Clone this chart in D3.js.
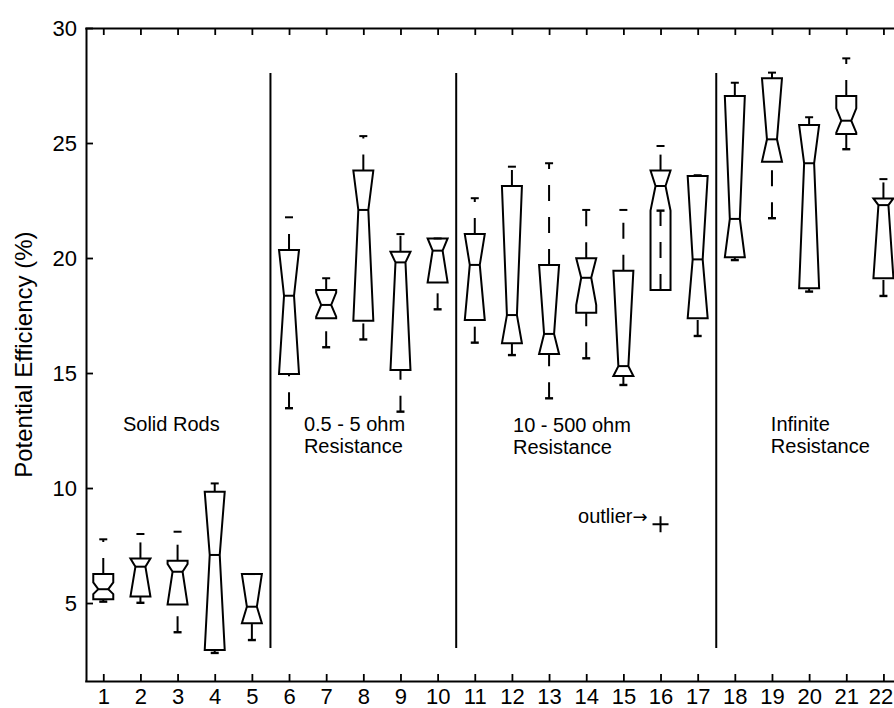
<!DOCTYPE html>
<html>
<head>
<meta charset="utf-8">
<script src="https://cdn.jsdelivr.net/npm/d3@7"></script>
<style>
  body { margin: 0; background: #fff; }
  svg text { font-family: "Liberation Sans", Arial, sans-serif; fill: #000; }
</style>
</head>
<body>
<div class="container"></div>
<script>
// box plot data, one entry per group (1..22)
var groups = d3.range(1, 23);
var whiskerHi = [7.77, 8.00, 8.10, 10.20, 6.26, 21.77, 19.12, 25.30, 21.04, 20.85, 22.60, 23.97, 24.12, 22.09, 22.09, 24.87, 23.60, 27.62, 28.06, 26.12, 28.68, 23.43];
var q3 =        [6.26, 6.94, 6.84, 9.84, 6.26, 20.35, 18.61, 23.80, 20.27, 20.85, 21.04, 23.13, 19.70, 19.99, 19.45, 23.80, 23.57, 27.04, 27.81, 25.78, 27.04, 22.59];
var notchHi =   [5.90, 6.94, 6.70, 9.84, 6.26, 20.35, 18.50, 23.80, 20.27, 20.85, 21.04, 23.13, 19.70, 19.99, 19.45, 23.80, 23.57, 27.04, 27.81, 25.78, 26.51, 22.59];
var median =    [5.60, 6.58, 6.36, 7.09, 4.84, 18.36, 17.96, 22.09, 19.81, 20.32, 19.70, 17.52, 16.70, 19.14, 15.30, 23.13, 19.94, 21.70, 25.16, 24.12, 25.97, 22.30];
var notchLo =   [5.39, 5.28, 4.94, 2.96, 4.12, 14.96, 17.45, 17.27, 15.13, 18.94, 17.30, 16.29, 15.83, 17.95, 14.87, 22.06, 17.38, 20.03, 24.19, 18.68, 25.45, 19.12];
var q1 =        [5.16, 5.28, 4.94, 2.96, 4.12, 14.96, 17.38, 17.27, 15.13, 18.94, 17.30, 16.29, 15.83, 17.62, 14.87, 18.61, 17.38, 20.03, 24.19, 18.68, 25.39, 19.12];
var whiskerLo = [5.06, 5.01, 3.73, 2.83, 3.39, 13.47, 16.12, 16.46, 13.32, 17.77, 16.32, 15.78, 13.90, 15.64, 14.48, 22.06, 16.61, 19.91, 21.73, 18.54, 24.73, 18.35];

// outliers
var outlierGroup = [16];
var outlierValue = [8.43];

// y ticks
var yTicks = [5, 10, 15, 20, 25, 30];

// group separators and annotation text
var separators = [5.5, 10.5, 17.5];
var notes = [
  {x: 1.53, y: 12.48, lines: ["Solid Rods"]},
  {x: 6.40, y: 12.48, lines: ["0.5 - 5 ohm", "Resistance"]},
  {x: 12.03, y: 12.45, lines: ["10 - 500 ohm", "Resistance"]},
  {x: 18.97, y: 12.48, lines: ["Infinite", "Resistance"]}
];

var svgWidth = 894;
var svgHeight = 708;

var svg = d3.select('.container').append('svg')
  .attr('width', svgWidth)
  .attr('height', svgHeight);

// scales
var xScale = d3.scaleLinear().domain([0.5, 22.5]).range([84.7, 84.7 + 22 * 37.15]);
var yScale = d3.scaleLinear().domain([1.61, 30]).range([681, 28]);

// axes, ticks pointing inward
svg.append('g')
  .attr('transform', 'translate(0,681)')
  .call(d3.axisBottom(xScale).tickValues(groups).tickSizeInner(-7).tickSizeOuter(0).tickPadding(7))
  .call(g => g.selectAll('text').attr('font-size', 22))
  // last label sits at the window edge, nudge it in a little
  .call(g => g.selectAll('.tick:last-of-type text').attr('dx', -3));

svg.append('g')
  .attr('transform', 'translate(0,28)')
  .call(d3.axisTop(xScale).tickValues(groups).tickSizeInner(-7).tickSizeOuter(0).tickFormat(''));

svg.append('g')
  .attr('transform', 'translate(86,0)')
  .call(d3.axisLeft(yScale).tickValues(yTicks).tickSizeInner(-7).tickSizeOuter(0).tickPadding(9))
  .call(g => g.selectAll('text').attr('font-size', 22));

svg.selectAll('.domain').attr('stroke-width', 2);
svg.selectAll('.tick line').attr('stroke-width', 1.8);
svg.selectAll('.tick text').attr('font-family', '"Liberation Sans", Arial, sans-serif');

// y label
svg.append('text')
  .attr('transform', 'translate(32,' + yScale(15.8) + ') rotate(-90)')
  .attr('text-anchor', 'middle')
  .attr('font-size', 24)
  .text('Potential Efficiency (%)');

// group separators
svg.selectAll('.sep')
  .data(separators)
  .enter()
  .append('line')
  .attr('x1', d => xScale(d))
  .attr('x2', d => xScale(d))
  .attr('y1', yScale(3.04))
  .attr('y2', yScale(28.04))
  .attr('stroke', '#000')
  .attr('stroke-width', 2);

// boxes
var w = 10;
var boxes = groups.map((g, i) => ({
  g: g, whi: whiskerHi[i], q3: q3[i], nhi: notchHi[i], med: median[i],
  nlo: notchLo[i], q1: q1[i], wlo: whiskerLo[i]
}));

var boxG = svg.selectAll('.box')
  .data(boxes)
  .enter()
  .append('g')
  .attr('class', 'box');

// whiskers, dashed, drawn from the lower end upward
function whiskerPath(d, a, b) {
  var lo = Math.min(a, b), hi = Math.max(a, b);
  return 'M' + xScale(d.g) + ',' + yScale(lo) + 'L' + xScale(d.g) + ',' + yScale(hi);
}
boxG.append('path')
  .attr('d', d => whiskerPath(d, d.q3, d.whi))
  .attr('stroke', '#000')
  .attr('stroke-width', 2)
  .attr('stroke-dasharray', '16,16');
boxG.append('path')
  .attr('d', d => whiskerPath(d, d.wlo, d.q1))
  .attr('stroke', '#000')
  .attr('stroke-width', 2)
  .attr('stroke-dasharray', '16,16');

// caps
boxG.append('line')
  .attr('x1', d => xScale(d.g) - 4)
  .attr('x2', d => xScale(d.g) + 4)
  .attr('y1', d => yScale(d.whi))
  .attr('y2', d => yScale(d.whi))
  .attr('stroke', '#000')
  .attr('stroke-width', 2);
boxG.append('line')
  .attr('x1', d => xScale(d.g) - 4)
  .attr('x2', d => xScale(d.g) + 4)
  .attr('y1', d => yScale(d.wlo))
  .attr('y2', d => yScale(d.wlo))
  .attr('stroke', '#000')
  .attr('stroke-width', 2.4);

// notched box outline
boxG.append('path')
  .attr('d', d => {
    var x = xScale(d.g);
    var pts = [
      [x - w, yScale(d.q1)], [x - w, yScale(d.nlo)], [x - w / 2, yScale(d.med)],
      [x - w, yScale(d.nhi)], [x - w, yScale(d.q3)], [x + w, yScale(d.q3)],
      [x + w, yScale(d.nhi)], [x + w / 2, yScale(d.med)], [x + w, yScale(d.nlo)],
      [x + w, yScale(d.q1)]
    ];
    return 'M' + pts.join('L') + 'Z';
  })
  .attr('fill', 'none')
  .attr('stroke', '#000')
  .attr('stroke-width', 2)
  .attr('stroke-linejoin', 'miter');

// median line
boxG.append('line')
  .attr('x1', d => xScale(d.g) - w / 2)
  .attr('x2', d => xScale(d.g) + w / 2)
  .attr('y1', d => yScale(d.med))
  .attr('y2', d => yScale(d.med))
  .attr('stroke', '#000')
  .attr('stroke-width', 2);

// outliers as +
outlierGroup.forEach((g, i) => {
  var cx = xScale(g), cy = yScale(outlierValue[i]);
  svg.append('path')
    .attr('d', 'M' + (cx - 8) + ',' + cy + 'H' + (cx + 8) + 'M' + cx + ',' + (cy - 8) + 'V' + (cy + 8))
    .attr('stroke', '#000')
    .attr('stroke-width', 2);
});

// annotations
notes.forEach(n => {
  var t = svg.append('text')
    .attr('x', xScale(n.x))
    .attr('y', yScale(n.y))
    .attr('font-size', 20);
  n.lines.forEach((line, j) => {
    t.append('tspan')
      .attr('x', xScale(n.x))
      .attr('dy', j === 0 ? 0 : 22)
      .text(line);
  });
});

// outlier note with a wider arrow glyph
var outNote = svg.append('text')
  .attr('x', xScale(13.78))
  .attr('y', yScale(8.48))
  .attr('font-size', 20);
outNote.append('tspan').text('outlier');
outNote.append('tspan')
  .attr('font-family', '"DejaVu Sans", sans-serif')
  .attr('font-size', 18)
  .text('\u2192');
</script>
</body>
</html>
